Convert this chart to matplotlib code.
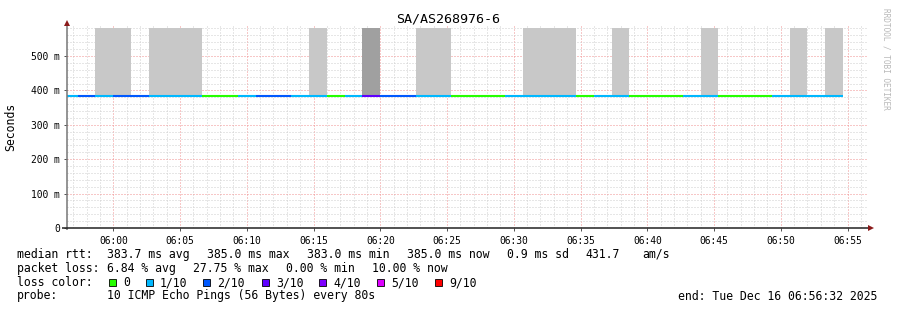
import matplotlib
matplotlib.use("Agg")
import matplotlib.pyplot as plt
import matplotlib.dates as mdates
from matplotlib.patches import Rectangle
import numpy as np
import pandas as pd

# ---------------- data ----------------
title = "SA/AS268976-6"
step_start = "2025-12-16 05:56:00"
step_seconds = 80
view_start = "2025-12-16 05:56:32"
view_end = "2025-12-16 06:56:32"

# median rtt (ms) per 80 s step
median_ms = [383.5, 383, 383, 383, 385, 385, 385, 385, 385, 383,
             383, 383, 383, 383, 383, 383, 383, 385, 385, 385,
             385, 383, 383, 383, 383, 385, 383, 383, 383, 383,
             383, 383, 383, 383, 383, 383, 383, 385, 385, 384,
             383, 384.5, 384.5, 384.5]
# packet loss per step, in tenths (pings lost out of 10)
loss_tenths = [1, 2, 1, 2, 2, 1, 1, 1, 0, 0,
               1, 2, 2, 1, 1, 0, 1, 3, 2, 2,
               1, 1, 0, 0, 0, 1, 1, 1, 1, 0,
               1, 1, 0, 0, 0, 1, 1, 0, 0, 0,
               1, 1, 1, 1]
# smoke (spread of individual pings): top value in ms, 0 = no smoke; shade 1 light, 2 dark
smoke_top_ms = [0, 0, 581, 581, 0, 581, 581, 581, 0, 0,
                0, 0, 0, 0, 581, 0, 0, 581, 0, 0,
                581, 581, 0, 0, 0, 0, 581, 581, 581, 0,
                0, 581, 0, 0, 0, 0, 581, 0, 0, 0,
                0, 581, 0, 581]
smoke_shade = [0, 0, 1, 1, 0, 1, 1, 1, 0, 0,
               0, 0, 0, 0, 1, 0, 0, 2, 0, 0,
               1, 1, 0, 0, 0, 0, 1, 1, 1, 0,
               0, 1, 0, 0, 0, 0, 1, 0, 0, 0,
               0, 1, 0, 1]

loss_labels = ["0", "1/10", "2/10", "3/10", "4/10", "5/10", "9/10"]
loss_keys = [0, 1, 2, 3, 4, 5, 9]
loss_colors = ["#26ff00", "#00b8ff", "#0059ff", "#5e00ff", "#7e00ff", "#dd00ff", "#ff0000"]

y_ticks_ms = [0, 100, 200, 300, 400, 500]
y_tick_labels = ["0", "100 m", "200 m", "300 m", "400 m", "500 m"]
y_max = 588

legend_rtt = ["383.7 ms avg", "385.0 ms max", "383.0 ms min", "385.0 ms now", "0.9 ms sd", "431.7", "am/s"]
legend_loss = ["6.84 % avg", "27.75 % max", "0.00 % min", "10.00 % now"]
probe_text = "10 ICMP Echo Pings (56 Bytes) every 80s"
end_text = "end: Tue Dec 16 06:56:32 2025"

# ---------------- figure ----------------
W, H = 897, 310
fig = plt.figure(figsize=(W / 100, H / 100), dpi=100, facecolor="white")
MONO = "DejaVu Sans Mono"

def fx(px):
    return px / W

def fy(py):
    return 1 - py / H

ax_l, ax_r, ax_b, ax_t = 67, 868, 228, 25.7
ax = fig.add_axes([fx(ax_l), fy(ax_b), fx(ax_r - ax_l), (ax_b - ax_t) / H])
ax.set_facecolor("white")

starts = pd.date_range(step_start, periods=len(median_ms), freq=f"{step_seconds}s")
ends = starts + pd.Timedelta(seconds=step_seconds)
s_num = mdates.date2num(starts.to_pydatetime())
e_num = mdates.date2num(ends.to_pydatetime())

# smoke
shade_col = {1: "#c8c8c8", 2: "#a0a0a0"}
for s, e, m, top, sh in zip(s_num, e_num, median_ms, smoke_top_ms, smoke_shade):
    if sh:
        ax.fill_between([s, e], [m, m], [top, top], color=shade_col[sh], linewidth=0, zorder=2)

# median line coloured by loss
cmap = dict(zip(loss_keys, loss_colors))
ax.hlines(median_ms, s_num, e_num, colors=[cmap[l] for l in loss_tenths],
          linewidth=1.5, zorder=3, capstyle="butt")

x0 = mdates.date2num(pd.Timestamp(view_start).to_pydatetime())
x1 = mdates.date2num(pd.Timestamp(view_end).to_pydatetime())
ax.set_xlim(x0, x1)
ax.set_ylim(0, y_max)

# grid
ax.xaxis.set_major_locator(mdates.MinuteLocator(byminute=range(0, 60, 5)))
ax.xaxis.set_minor_locator(mdates.MinuteLocator())
ax.xaxis.set_major_formatter(mdates.DateFormatter("%H:%M"))
ax.set_yticks(y_ticks_ms)
ax.set_yticklabels(y_tick_labels)
ax.set_yticks(np.arange(20, y_max, 20), minor=True)
ax.grid(which="minor", color="#cfcfcf", linestyle=(0, (1, 2)), linewidth=0.72, zorder=0)
ax.grid(which="major", color="#f09090", linestyle=(0, (1, 2)), linewidth=0.72, zorder=1)
ax.set_axisbelow(True)

for sp in ax.spines.values():
    sp.set_visible(False)

ax.tick_params(axis="both", which="major", length=2, width=0.72, color="#555555",
               labelsize=6.9, pad=3)
ax.tick_params(axis="both", which="minor", length=0)
ax.tick_params(axis="x", pad=3.5)
for lab in ax.get_xticklabels() + ax.get_yticklabels():
    lab.set_family(MONO)

fig.text(fx(11), fy(127), "Seconds", family=MONO, fontsize=8.3, rotation=90,
         ha="center", va="center")

# axes lines with arrows
ax.plot([0, 0], [-0.01, 1.0], transform=ax.transAxes, color="#777777", lw=1.1,
        clip_on=False, zorder=5, solid_capstyle="butt")
ax.plot([-0.006, 1.003], [0, 0], transform=ax.transAxes, color="#222222", lw=1.1,
        clip_on=False, zorder=5, solid_capstyle="butt")
ax.plot([0], [1.015], marker="^", markersize=4.5, color="#8b1a1a", transform=ax.transAxes,
        clip_on=False, zorder=6, markeredgewidth=0)
ax.plot([1.004], [0], marker=">", markersize=4.5, color="#8b1a1a", transform=ax.transAxes,
        clip_on=False, zorder=6, markeredgewidth=0)

# title
fig.text(fx(448), fy(19), title, family=MONO, fontsize=9.6, ha="center", va="center")

# watermark
fig.text(fx(886), fy(59), "RRDTOOL / TOBI OETIKER", family=MONO, fontsize=5.6,
         color="#b8b8b8", rotation=-90, ha="center", va="center")

# legend
fs = 8.3
def t(x, y, s):
    fig.text(fx(x), fy(y), s, family=MONO, fontsize=fs, ha="left", va="center")

t(16.5, 254.3, "median rtt:")
for x, s in zip([107.3, 207.3, 307.3, 406.7, 506.7, 585.7, 642], legend_rtt):
    t(x, 254.3, s)
t(16.5, 268.3, "packet loss:")
for x, s in zip([107.3, 193.3, 286, 372.3], legend_loss):
    t(x, 268.3, s)
t(16.5, 282.7, "loss color:")
for x, lab, col in zip([109, 146, 203, 262, 319, 377, 435], loss_labels, loss_colors):
    fig.patches.append(Rectangle((fx(x), fy(286)), fx(7), 7 / H, transform=fig.transFigure,
                                 facecolor=col, edgecolor="black", linewidth=0.6))
    t(x + 14, 282.7, lab)
t(16.5, 296, "probe:")
t(107.3, 296, probe_text)
t(678.3, 296, end_text)

fig.savefig("out.png", dpi=100, facecolor="white")
